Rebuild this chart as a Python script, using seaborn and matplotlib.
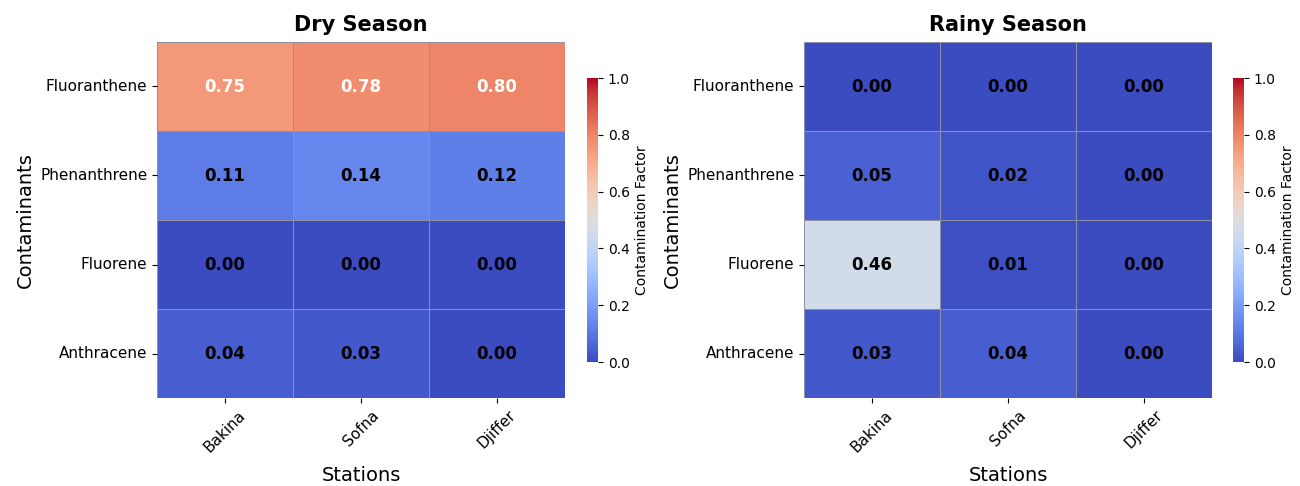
import matplotlib
matplotlib.use("Agg")
import matplotlib.pyplot as plt
import seaborn as sns
import pandas as pd
import numpy as np

contaminants = ["Fluoranthene", "Phenanthrene", "Fluorene", "Anthracene"]
stations = ["Bakina", "Sofna", "Djiffer"]
dry_values = [
    [0.75, 0.78, 0.80],
    [0.11, 0.14, 0.12],
    [0.00, 0.00, 0.00],
    [0.04, 0.03, 0.00],
]
rainy_values = [
    [0.00, 0.00, 0.00],
    [0.05, 0.02, 0.00],
    [0.46, 0.01, 0.00],
    [0.03, 0.04, 0.00],
]

dry_df = pd.DataFrame(dry_values, index=contaminants, columns=stations)
rainy_df = pd.DataFrame(rainy_values, index=contaminants, columns=stations)

W, H = 1300, 486
fig = plt.figure(figsize=(13, 4.86), dpi=100)

def rect(x0, x1, y0, y1):
    return [x0 / W, (H - y1) / H, (x1 - x0) / W, (y1 - y0) / H]

panels = [
    (dry_df, "Dry Season", rect(157, 565, 42, 398), rect(587, 598, 78, 362)),
    (rainy_df, "Rainy Season", rect(804, 1212, 42, 398), rect(1233, 1244, 78, 362)),
]

for df, title, axr, cbr in panels:
    ax = fig.add_axes(axr)
    cax = fig.add_axes(cbr)
    sns.heatmap(df, ax=ax, cbar_ax=cax, cmap="coolwarm", vmin=0, vmax=1, annot=True, fmt=".2f",
                annot_kws={"fontsize": 12, "fontweight": "bold"},
                linewidths=0.5, linecolor="#8f8fa8",
                cbar_kws={"label": "Contamination Factor"})
    for t in ax.texts:
        v = float(t.get_text())
        t.set_color("white" if v > 0.5 else "black")
    ax.set_title(title, fontsize=15, fontweight="bold", pad=8)
    ax.set_xlabel("Stations", fontsize=14, labelpad=8)
    ax.set_ylabel("Contaminants", fontsize=14)
    ax.tick_params(axis="x", labelsize=11, rotation=45)
    ax.tick_params(axis="y", labelsize=11, rotation=0)
    cax.tick_params(labelsize=10)
    cax.set_ylabel("Contamination Factor", fontsize=10)
    for s in cax.spines.values():
        s.set_visible(False)

fig.savefig("out.png", dpi=100)
